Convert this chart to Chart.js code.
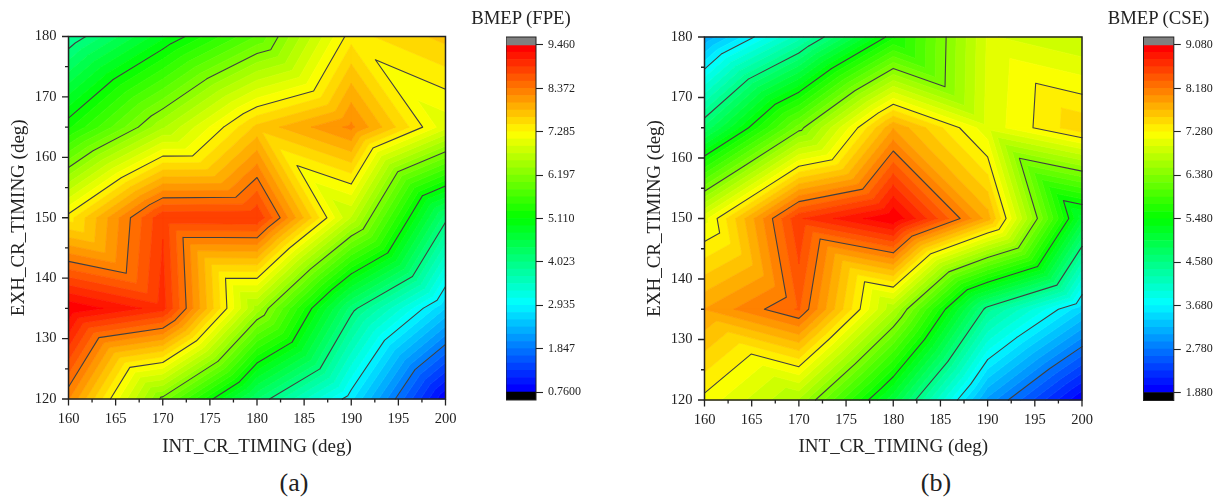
<!DOCTYPE html>
<html>
<head>
<meta charset="utf-8">
<script src="https://cdn.jsdelivr.net/npm/chart.js@4"></script>
<style>
  body { margin: 0; background: #fff; width: 1214px; height: 499px; overflow: hidden; position: relative; }
  canvas { position: absolute; }
  .cap { position: absolute; transform: translate(-50%, -50%); font-family: "Liberation Serif", serif; color: #222; white-space: nowrap; }
</style>
</head>
<body>
<canvas id="plotA" width="470" height="465" style="left:0;top:0"></canvas>
<canvas id="barA" width="110" height="420" style="left:506px;top:0"></canvas>
<canvas id="plotB" width="470" height="465" style="left:636px;top:0"></canvas>
<canvas id="barB" width="71" height="420" style="left:1143px;top:0"></canvas>
<div class="cap" style="left:521px;top:18px;font-size:18.7px">BMEP (FPE)</div>
<div class="cap" style="left:1158.5px;top:18px;font-size:18.7px">BMEP (CSE)</div>
<div class="cap" style="left:294px;top:483px;font-size:26px">(a)</div>
<div class="cap" style="left:936px;top:483px;font-size:26px">(b)</div>
<script>
const xNodes = [160, 170, 180, 190, 200];
const yNodes = [120, 135, 150, 165, 180];

// rows run bottom to top, one value per xNodes entry
const fpeZ = [
  [8.21, 6.13, 4.21, 2.80, 0.76],
  [9.44, 9.00, 6.48, 4.12, 2.565],
  [7.38, 8.89, 8.91, 6.72, 4.10],
  [5.25, 6.53, 7.70, 8.24, 6.98],
  [3.83, 4.88, 5.85, 7.39, 7.71]
];
const cseZ = [
  [7.23, 6.66, 5.06, 3.03, 1.88],
  [7.885, 8.35, 6.70, 4.49, 3.41],
  [7.075, 8.61, 9.08, 7.81, 5.10],
  [4.76, 6.30, 7.87, 7.03, 7.55],
  [3.09, 4.21, 5.59, 7.00, 6.82]
];

const xTickLabels = ['160', '165', '170', '175', '180', '185', '190', '195', '200'];
const yTickLabels = ['120', '130', '140', '150', '160', '170', '180'];
const fpeTickLabels = ['0.7600', '1.847', '2.935', '4.023', '5.110', '6.197', '7.285', '8.372', '9.460'];
const cseTickLabels = ['1.880', '2.780', '3.680', '4.580', '5.480', '6.380', '7.280', '8.180', '9.080'];

const BANDS = 48;
const LINE_EVERY = 6;
const SERIF = '"Liberation Serif", serif';
const INK = '#222';

function bandColor(i) {
  const t = i / (BANDS - 1);
  let r = 0, g = 0, b = 0;
  if (t < 0.25) { g = t / 0.25; b = 1; }
  else if (t < 0.5) { g = 1; b = 1 - (t - 0.25) / 0.25; }
  else if (t < 0.75) { r = (t - 0.5) / 0.25; g = 1; }
  else { r = 1; g = 1 - (t - 0.75) / 0.25; }
  return `rgb(${Math.round(r * 255)},${Math.round(g * 255)},${Math.round(b * 255)})`;
}

function makeLevels(min, max) {
  const out = [];
  for (let i = 0; i <= BANDS; i++) out.push(min + (max - min) * i / BANDS);
  return out;
}

// every grid cell is cut along the upper-left to lower-right diagonal
function triangles(z) {
  const out = [];
  for (let j = 0; j < yNodes.length - 1; j++) {
    for (let i = 0; i < xNodes.length - 1; i++) {
      const p = (a, b) => ({ x: xNodes[a], y: yNodes[b], z: z[b][a] });
      out.push([p(i, j), p(i + 1, j), p(i, j + 1)]);
      out.push([p(i + 1, j), p(i + 1, j + 1), p(i, j + 1)]);
    }
  }
  return out;
}

function lerp(a, b, level) {
  const t = (level - a.z) / (b.z - a.z);
  return { x: a.x + (b.x - a.x) * t, y: a.y + (b.y - a.y) * t, z: level };
}

// keep the part of a polygon on one side of a level (sign 1 = above, -1 = below)
function clip(poly, level, sign) {
  const out = [];
  poly.forEach((a, i) => {
    const b = poly[(i + 1) % poly.length];
    const ain = (a.z - level) * sign >= 0;
    const bin = (b.z - level) * sign >= 0;
    if (ain) out.push(a);
    if (ain !== bin) out.push(lerp(a, b, level));
  });
  return out;
}

const contourPlugin = {
  id: 'contour',
  beforeDatasetsDraw(chart, args, opts) {
    const { ctx, scales: { x, y } } = chart;
    const tris = triangles(opts.z);
    const px = p => [x.getPixelForValue(p.x), y.getPixelForValue(p.y)];

    ctx.save();
    ctx.lineWidth = 0.7;
    ctx.lineJoin = 'round';
    for (let b = 0; b < BANDS; b++) {
      ctx.fillStyle = ctx.strokeStyle = bandColor(b);
      ctx.beginPath();
      tris.forEach(tri => {
        const poly = clip(clip(tri, opts.levels[b], 1), opts.levels[b + 1], -1);
        poly.forEach((p, i) => {
          const [a, c] = px(p);
          if (i === 0) ctx.moveTo(a, c); else ctx.lineTo(a, c);
        });
        if (poly.length) ctx.closePath();
      });
      ctx.fill();
      ctx.stroke();
    }

    ctx.strokeStyle = '#404040';
    ctx.lineWidth = 1.1;
    ctx.lineCap = 'round';
    for (let l = LINE_EVERY; l < BANDS; l += LINE_EVERY) {
      const level = opts.levels[l];
      ctx.beginPath();
      tris.forEach(tri => {
        const cuts = [];
        tri.forEach((a, i) => {
          const b = tri[(i + 1) % 3];
          if ((a.z - level) * (b.z - level) < 0) cuts.push(lerp(a, b, level));
        });
        if (cuts.length === 2) {
          ctx.moveTo(...px(cuts[0]));
          ctx.lineTo(...px(cuts[1]));
        }
      });
      ctx.stroke();
    }
    ctx.restore();
  },
  afterDatasetsDraw(chart) {
    const { ctx, chartArea: area, scales: { x, y } } = chart;
    ctx.save();
    ctx.strokeStyle = INK;
    ctx.lineWidth = 1.3;
    ctx.beginPath();
    x.ticks.forEach(t => {
      const p = x.getPixelForValue(t.value);
      ctx.moveTo(p, area.bottom);
      ctx.lineTo(p, area.bottom + (t.label ? 6.5 : 3.5));
    });
    y.ticks.forEach(t => {
      const p = y.getPixelForValue(t.value);
      ctx.moveTo(area.left, p);
      ctx.lineTo(area.left - (t.label ? 6.5 : 3.5), p);
    });
    ctx.stroke();
    ctx.lineWidth = 1.5;
    ctx.strokeRect(area.left, area.top, area.right - area.left, area.bottom - area.top);
    ctx.restore();
  }
};

function makePlot(id, z, levels, box) {
  const canvas = document.getElementById(id);
  const nodes = [];
  yNodes.forEach((yv, j) => xNodes.forEach((xv, i) => nodes.push({ x: xv, y: yv, z: z[j][i] })));

  return new Chart(canvas, {
    type: 'scatter',
    data: { datasets: [{ data: nodes, pointRadius: 0 }] },
    plugins: [contourPlugin],
    options: {
      responsive: false,
      animation: false,
      events: [],
      layout: { padding: { left: 0, top: box.top, right: canvas.width - box.right, bottom: 0 } },
      plugins: {
        legend: { display: false },
        tooltip: { enabled: false },
        contour: { z, levels }
      },
      scales: {
        x: {
          type: 'linear',
          min: 160,
          max: 200,
          afterFit: s => { s.height = canvas.height - box.bottom; },
          border: { display: false },
          grid: { display: false, drawTicks: false },
          ticks: {
            stepSize: 2.5,
            autoSkip: false,
            maxRotation: 0,
            padding: 11,
            color: INK,
            font: { family: SERIF, size: 14.5 },
            callback: v => xTickLabels.includes(String(v)) ? String(v) : ''
          },
          title: {
            display: true,
            text: 'INT_CR_TIMING (deg)',
            color: INK,
            padding: { top: 0, bottom: 6.6 },
            font: { family: SERIF, size: 19 }
          }
        },
        y: {
          type: 'linear',
          min: 120,
          max: 180,
          afterFit: s => { s.width = box.left; },
          border: { display: false },
          grid: { display: false, drawTicks: false },
          ticks: {
            stepSize: 5,
            autoSkip: false,
            padding: 12,
            color: INK,
            font: { family: SERIF, size: 14.5 },
            callback: v => yTickLabels.includes(String(v)) ? String(v) : ''
          },
          title: {
            display: true,
            text: 'EXH_CR_TIMING (deg)',
            color: INK,
            padding: { top: 8, bottom: 0 },
            font: { family: SERIF, size: 19 }
          }
        }
      }
    }
  });
}

const frameBar = {
  id: 'frameBar',
  afterDatasetsDraw(chart) {
    const { ctx, chartArea: area } = chart;
    ctx.save();
    ctx.strokeStyle = INK;
    ctx.lineWidth = 1;
    ctx.strokeRect(area.left, area.top, area.right - area.left, area.bottom - area.top);
    ctx.restore();
  }
};

function makeBar(id, levels, labels, box) {
  const canvas = document.getElementById(id);
  const step = levels[1] - levels[0];
  const lo = levels[0] - step * 1.1;
  const hi = levels[BANDS] + step * 1.1;
  const datasets = [
    { data: [[lo, levels[0]]], backgroundColor: '#000' },
    { data: [[levels[BANDS], hi]], backgroundColor: '#808080' }
  ];
  for (let i = 0; i < BANDS; i++) {
    datasets.push({ data: [[levels[i], levels[i + 1]]], backgroundColor: bandColor(i) });
  }
  const tickValues = labels.map(Number);

  return new Chart(canvas, {
    type: 'bar',
    data: { labels: ['BMEP'], datasets },
    plugins: [frameBar],
    options: {
      responsive: false,
      animation: false,
      events: [],
      layout: { padding: { left: box.left, top: box.top, right: 0, bottom: canvas.height - box.bottom } },
      plugins: { legend: { display: false }, tooltip: { enabled: false } },
      datasets: { bar: { grouped: false, barPercentage: 1, categoryPercentage: 1, borderWidth: 0 } },
      scales: {
        x: { display: false },
        y: {
          position: 'right',
          min: lo,
          max: hi,
          afterFit: s => { s.width = canvas.width - box.left - box.barWidth; },
          afterBuildTicks: s => { s.ticks = tickValues.map(value => ({ value })); },
          border: { display: false },
          grid: { drawOnChartArea: false, tickLength: 7, tickColor: INK, tickWidth: 1.1 },
          ticks: {
            autoSkip: false,
            padding: 5,
            color: INK,
            font: { family: SERIF, size: 12 },
            callback: (v, i) => labels[i]
          }
        }
      }
    }
  });
}

const fpeLevels = makeLevels(0.76, 9.46);
const cseLevels = makeLevels(1.88, 9.08);

makePlot('plotA', fpeZ, fpeLevels, { left: 68.5, right: 445.5, top: 36.5, bottom: 399 });
makePlot('plotB', cseZ, cseLevels, { left: 68.5, right: 446, top: 37, bottom: 400 });
makeBar('barA', fpeLevels, fpeTickLabels, { left: 0, top: 37, bottom: 400, barWidth: 30 });
makeBar('barB', cseLevels, cseTickLabels, { left: 0.5, top: 37, bottom: 400.5, barWidth: 30.3 });
</script>
</body>
</html>
